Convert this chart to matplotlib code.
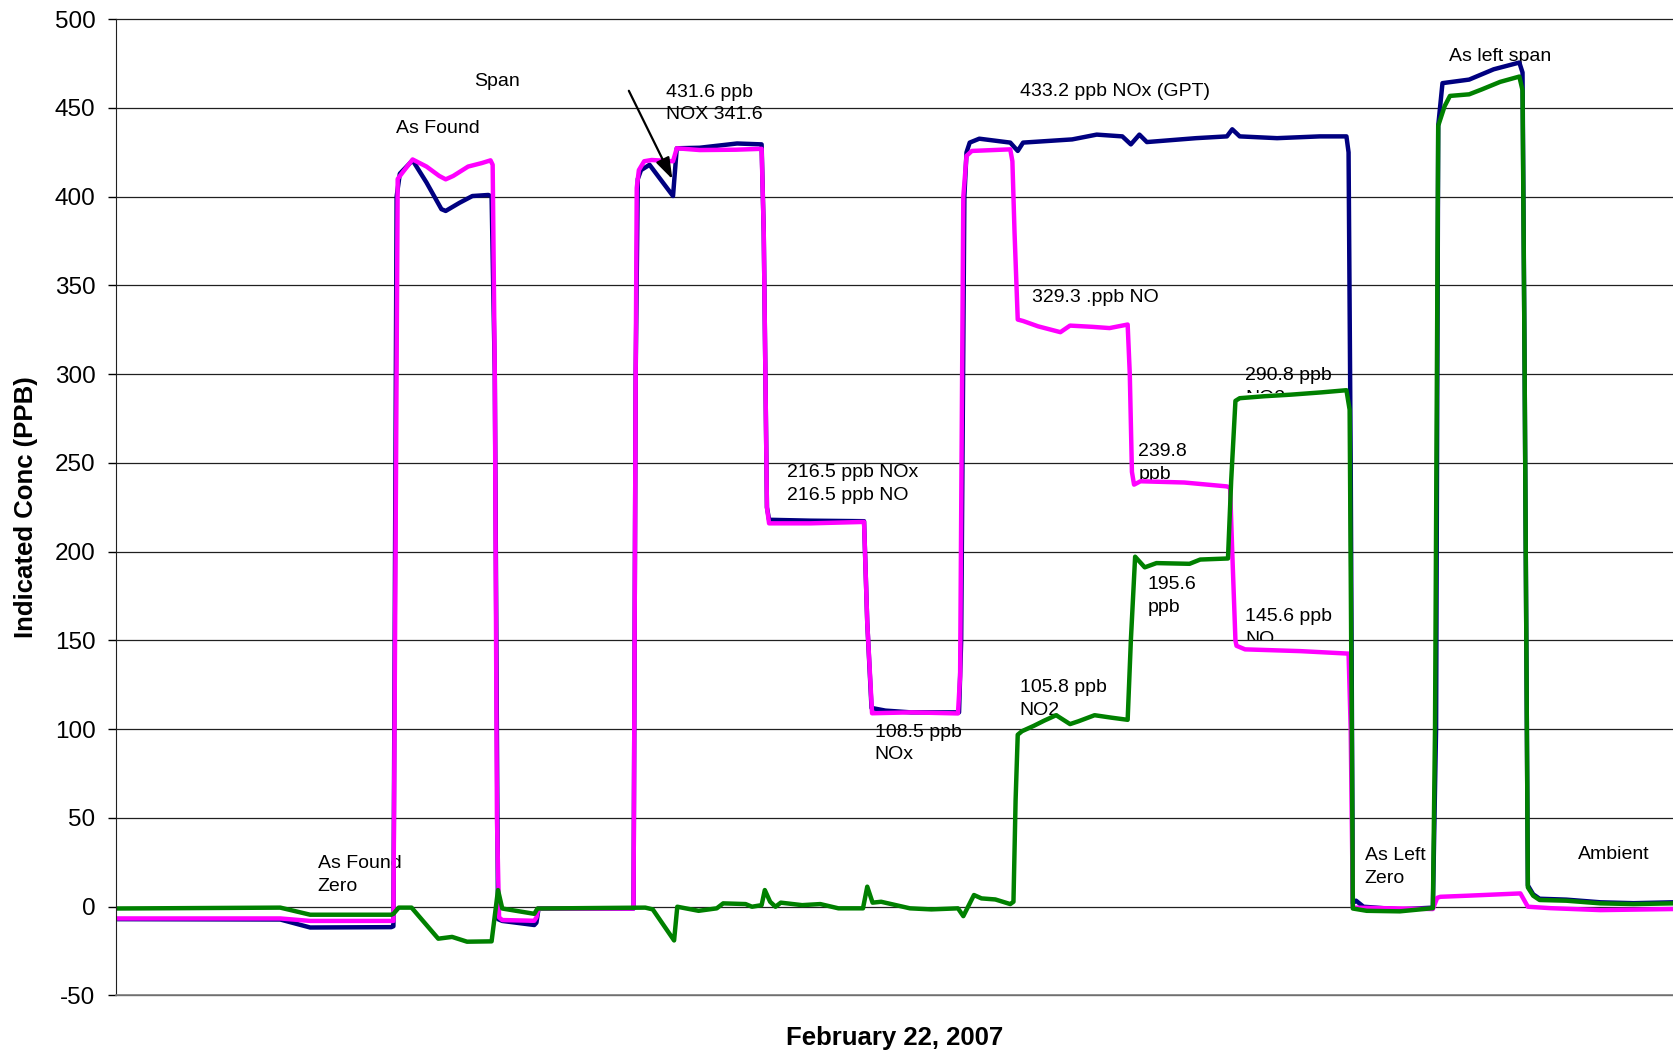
import matplotlib
matplotlib.use("Agg")
import matplotlib.pyplot as plt
from matplotlib.transforms import Bbox, TransformedBbox

plt.rcParams['font.family'] = ['Liberation Sans', 'DejaVu Sans']
plt.rcParams['axes.unicode_minus'] = False

# sample index (time along the day) and readings in ppb
t_nox = [0, 154, 182, 258, 260, 263, 266, 278, 291, 305, 309, 322, 334, 349, 352, 355, 358, 362,
         392, 394, 396, 485, 487, 489, 492, 500, 522, 525.5, 547, 582, 605, 607, 610, 612, 651,
         701, 704, 708, 721, 745, 790, 792, 795, 797, 800, 809, 838, 845, 850, 896, 919, 943,
         951, 959, 966, 1012, 1041, 1046, 1053, 1088, 1128, 1153, 1155, 1157, 1159, 1162, 1169,
         1203, 1234, 1237, 1239, 1243, 1268, 1291, 1315, 1318, 1320, 1323, 1328, 1334, 1359,
         1391, 1422, 1459]
nox = [-7, -7.2, -11.7, -11.5, -11, 400, 413, 420.5, 408, 393, 392, 396.6, 400.4, 401, 400, 300,
       -7, -8, -10.3, -9, -1, -1, 300, 410, 415, 418, 400.4, 427.3, 427.6, 430, 429.5, 380, 225,
       218, 217.5, 217.2, 160, 112, 110.5, 109.5, 109.5, 150, 400, 425, 430.5, 432.7, 430.5,
       425.8, 430.5, 432.3, 435, 434, 429.5, 435, 430.8, 433, 434, 438, 434, 433, 434, 434, 425,
       250, 2, 3.4, 0, -1.5, -0.5, 100, 440, 464, 466, 471.8, 475.6, 470, 300, 12, 7, 4.5, 4,
       2.5, 2, 2.5]

t_no = [0, 154, 182, 260, 262, 264, 269, 278, 291, 303, 309, 316, 330, 343, 351, 353, 355, 357,
        359, 362, 392, 394, 396, 485, 487, 488, 490, 495, 502, 522, 525.5, 547, 581, 605, 607,
        610, 612, 651, 701, 704, 708.5, 745, 789, 791, 794, 797, 802, 838, 840, 842, 845, 850,
        864, 885, 894, 915, 931, 948, 950, 952, 954, 960, 1001, 1041, 1044, 1046, 1049, 1050,
        1058, 1110, 1155, 1157, 1159, 1234, 1238, 1241, 1266, 1316, 1323, 1344, 1391, 1459]
no = [-6.6, -6.6, -8, -8, 200, 410, 414, 421, 417, 411.7, 409.8, 411.7, 417, 419, 420.5, 418,
      300, 50, -6, -7.5, -7.9, -6, -1, -1, 300, 405, 415, 420, 420.7, 420, 427.3, 426.3, 426.5,
      427, 380, 225, 216, 216, 216.8, 160, 109, 109.5, 108.9, 130, 400, 423, 425.8, 426.7, 420,
      380, 330.8, 330, 327, 323.7, 327.4, 326.7, 326, 328, 300, 245, 237.8, 239.7, 239, 236.8,
      236, 200, 150, 147, 145, 144, 142.6, 100, -0.5, -1.3, 5, 5.6, 6.2, 7.5, 0, -0.8, -1.9,
      -1.3]

t_no2 = [0, 154, 182, 258, 260, 265, 277, 302, 315, 329, 352, 358, 362, 392, 395, 496, 503, 523,
         526, 546, 563, 569, 590, 596, 605, 608, 613, 618, 623, 643, 660, 677, 700, 704, 709,
         717, 744, 764, 789, 794, 804, 811, 824, 838, 841, 843, 845, 849, 860, 870, 881, 894,
         902, 917, 933, 948, 951, 955, 964, 975, 1006, 1016, 1042, 1045, 1049, 1053, 1076, 1101,
         1130, 1153, 1156, 1158, 1159, 1172, 1203, 1234, 1236, 1239, 1245, 1250, 1268, 1280,
         1297, 1315, 1318, 1320, 1323, 1328, 1334, 1359, 1391, 1422, 1459]
no2 = [-1, -0.5, -4.5, -4.5, -4, -0.5, -0.5, -18, -17, -19.7, -19.5, 9.4, -1, -4, -1, -0.5,
       -1.5, -19, 0, -2.3, -0.9, 1.9, 1.5, 0, 0.9, 9.4, 2.8, 0, 2.3, 0.9, 1.5, -0.9, -0.9, 11.3,
       2.3, 2.8, -0.9, -1.5, -0.9, -5.3, 6.6, 4.7, 4.1, 1.5, 2.8, 60, 96.9, 98.9, 101.9, 104.9,
       107.9, 102.9, 104.5, 107.9, 106.5, 105.3, 150, 197.2, 191.2, 193.6, 193.2, 195.6, 196.2,
       240, 285, 286.5, 287.6, 288.5, 289.8, 291, 280, 100, -1, -2.3, -2.6, -0.8, 100, 440, 451,
       456.8, 457.7, 460.5, 464.7, 467.7, 460, 300, 10.9, 6.2, 3.8, 3.4, 1.9, 1.5, 1.9]

y_ticks = list(range(-50, 501, 50))

fig = plt.figure(figsize=(16.73, 10.57), dpi=100)
ax = fig.add_axes([0.0693, 0.0582, 0.9307, 0.9236])

ax.plot(t_nox, nox, color='#000080', lw=3.2, zorder=2)
ax.plot(t_no, no, color='#FF00FF', lw=3.2, zorder=2.1)
ax.plot(t_no2, no2, color='#008000', lw=3.2, zorder=2.2)

ax.set_xlim(0, 1459)
ax.set_ylim(-50, 500)
ax.set_yticks(y_ticks)
ax.set_xticks([])
ax.yaxis.grid(True, color='#202020', lw=0.9)
for gl in ax.get_ygridlines():
    gl.set_clip_on(False)
ax.set_axisbelow(True)
for s in ['top', 'right']:
    ax.spines[s].set_visible(False)
ax.spines['bottom'].set_color('#808080')
ax.spines['bottom'].set_linewidth(1.2)
ax.spines['left'].set_color('#202020')
ax.tick_params(axis='y', direction='out', length=5.8, width=1, pad=9, labelsize=17.5)

ax.set_ylabel('Indicated Conc (PPB)', fontsize=18.5, fontweight='bold')
ax.yaxis.label.set_va('center')
ax.yaxis.set_label_coords(-0.058, 0.5)
ax.set_xlabel('February 22, 2007', fontsize=18.5, fontweight='bold')
ax.xaxis.label.set_va('center')
ax.xaxis.set_label_coords(0.5, -0.0435)

notes = [
    (336, 465.1, 'Span'),
    (262, 438.7, 'As Found'),
    (515, 452.5, '431.6 ppb\nNOX 341.6'),
    (847, 459.1, '433.2 ppb NOx (GPT)'),
    (1249, 479.0, 'As left span'),
    (858, 343.1, '329.3 .ppb NO'),
    (1058, 299.3, '290.8 ppb'),
    (958, 250.0, '239.8\nppb'),
    (629, 238.0, '216.5 ppb NOx\n216.5 ppb NO'),
    (967, 174.9, '195.6\nppb'),
    (1058, 163.5, '145.6 ppb'),
    (847, 117.2, '105.8 ppb\nNO2'),
    (711, 92.0, '108.5 ppb\nNOx'),
    (189, 18.0, 'As Found\nZero'),
    (1170, 22.2, 'As Left\nZero'),
    (1370, 29.4, 'Ambient'),
]
for x, y, s in notes:
    ax.text(x, y, s, fontsize=14, ha='left', va='center', linespacing=1.45, zorder=1.5)

# second lines of two boxes that are cut off in the original
for x, y, s, ylo, yhi in [(1058, 286.1, 'NO2', 289.6, 300), (1058, 150.3, 'NO', 150, 160)]:
    t = ax.text(x, y, s, fontsize=14, ha='left', va='center', zorder=1.5)
    t.set_clip_box(TransformedBbox(Bbox([[x - 5, ylo], [x + 80, yhi]]), ax.transData))
    t.set_clip_on(True)

ax.annotate('', xy=(521.4, 409.9), xytext=(480.6, 459.7),
            arrowprops=dict(arrowstyle='-|>,head_length=0.65,head_width=0.22',
                            mutation_scale=20, color='black', lw=1.6, shrinkA=0, shrinkB=0),
            zorder=5)

fig.savefig('out.png', dpi=100)
